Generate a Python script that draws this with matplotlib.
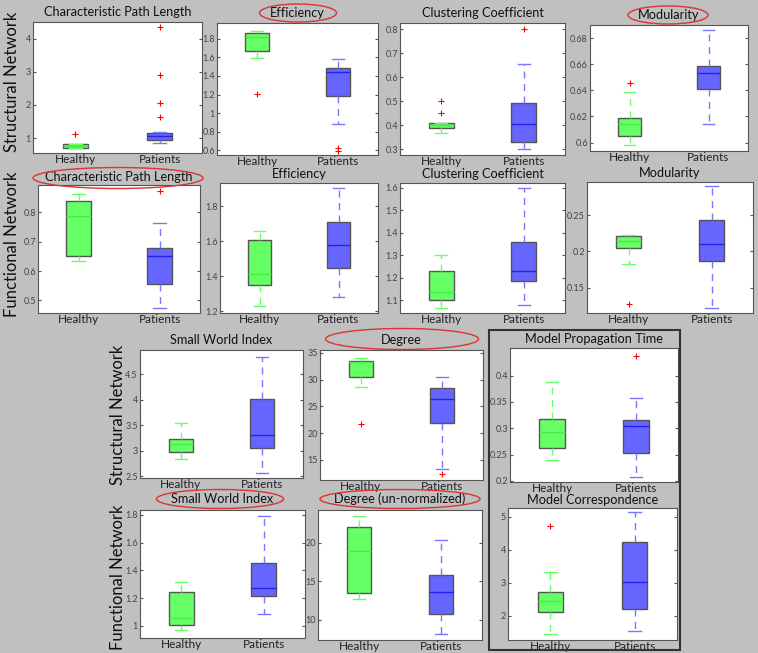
import matplotlib
matplotlib.use("Agg")
import matplotlib.pyplot as plt
from matplotlib.patches import Ellipse, Rectangle

plt.rcParams['font.family'] = ['Lato', 'DejaVu Sans']

W, H = 758, 653
groups = ["Healthy", "Patients"]

# five-number summaries [whislo, q1, med, q3, whishi] for Healthy / Patients, plus outliers
cpl_s = [[0.70, 0.71, 0.77, 0.81, 0.83], [0.86, 0.94, 1.06, 1.16, 1.19]]
cpl_s_out = [[1.11], [4.35, 2.9, 2.05, 1.63]]
eff_s = [[1.59, 1.665, 1.82, 1.865, 1.88], [0.88, 1.19, 1.44, 1.49, 1.58]]
eff_s_out = [[1.21], [0.63, 0.59]]
clu_s = [[0.366, 0.389, 0.40, 0.407, 0.41], [0.30, 0.331, 0.403, 0.491, 0.654]]
clu_s_out = [[0.50, 0.449], [0.80]]
mod_s = [[0.598, 0.605, 0.614, 0.619, 0.639], [0.614, 0.641, 0.653, 0.659, 0.686]]
mod_s_out = [[0.6457], []]

cpl_f = [[0.633, 0.652, 0.787, 0.838, 0.861], [0.474, 0.556, 0.652, 0.678, 0.764]]
cpl_f_out = [[], [0.872]]
eff_f = [[1.229, 1.349, 1.414, 1.606, 1.661], [1.282, 1.446, 1.581, 1.709, 1.903]]
eff_f_out = [[], []]
clu_f = [[1.067, 1.10, 1.137, 1.23, 1.301], [1.078, 1.186, 1.231, 1.361, 1.60]]
clu_f_out = [[], []]
mod_f = [[0.183, 0.2055, 0.2147, 0.221, 0.223], [0.122, 0.187, 0.211, 0.244, 0.290]]
mod_f_out = [[0.127], []]

swi_s = [[2.836, 2.985, 3.127, 3.238, 3.541], [2.57, 3.063, 3.30, 4.015, 4.84]]
swi_s_out = [[], []]
deg_s = [[28.6, 30.45, 33.35, 33.5, 34.1], [13.3, 22.0, 26.4, 28.4, 30.6]]
deg_s_out = [[21.8], [12.4]]
mpt = [[0.240, 0.262, 0.293, 0.317, 0.3885], [0.208, 0.253, 0.305, 0.315, 0.358]]
mpt_out = [[], [0.437]]

swi_f = [[0.972, 1.007, 1.059, 1.243, 1.317], [1.085, 1.217, 1.27, 1.456, 1.795]]
swi_f_out = [[], []]
deg_f = [[12.69, 13.46, 18.88, 22.0, 23.5], [8.08, 10.68, 13.54, 15.77, 20.38]]
deg_f_out = [[], []]
mcorr = [[1.43, 2.12, 2.45, 2.73, 3.33], [1.53, 2.195, 3.03, 4.23, 5.14]]
mcorr_out = [[4.73], []]

panels = [
    ("Characteristic Path Length", cpl_s, cpl_s_out, [1, 2, 3, 4]),
    ("Efficiency", eff_s, eff_s_out, [0.6, 0.8, 1, 1.2, 1.4, 1.6, 1.8]),
    ("Clustering Coefficient", clu_s, clu_s_out, [0.3, 0.4, 0.5, 0.6, 0.7, 0.8]),
    ("Modularity", mod_s, mod_s_out, [0.6, 0.62, 0.64, 0.66, 0.68]),
    ("Characteristic Path Length", cpl_f, cpl_f_out, [0.5, 0.6, 0.7, 0.8]),
    ("Efficiency", eff_f, eff_f_out, [1.2, 1.4, 1.6, 1.8]),
    ("Clustering Coefficient", clu_f, clu_f_out, [1.1, 1.2, 1.3, 1.4, 1.5, 1.6]),
    ("Modularity", mod_f, mod_f_out, [0.15, 0.2, 0.25]),
    ("Small World Index", swi_s, swi_s_out, [2.5, 3, 3.5, 4, 4.5]),
    ("Degree", deg_s, deg_s_out, [15, 20, 25, 30, 35]),
    ("Model Propagation Time", mpt, mpt_out, [0.2, 0.25, 0.3, 0.35, 0.4]),
    ("Small World Index", swi_f, swi_f_out, [1, 1.2, 1.4, 1.6, 1.8]),
    ("Degree (un-normalized)", deg_f, deg_f_out, [10, 15, 20]),
    ("Model Correspondence", mcorr, mcorr_out, [2, 3, 4, 5]),
]

# layout in pixels: left, top, right, bottom of each plot area, y range, title offset
rects = [(33, 22, 202, 153), (217, 23, 378, 155), (400, 23, 565, 155), (590, 25, 748, 151),
         (38, 185, 200, 313), (220, 183, 378, 313), (400, 183, 565, 313), (587, 182, 753, 313),
         (140, 350, 303, 478), (320, 350, 483, 480), (510, 348, 678, 482),
         (140, 510, 305, 638), (318, 510, 482, 640), (508, 508, 677, 640)]
ylims = [(0.55, 4.5), (0.55, 1.97), (0.275, 0.826), (0.5936, 0.690),
         (0.457, 0.893), (1.19, 1.934), (1.043, 1.622), (0.115, 0.296),
         (2.467, 4.97), (11.26, 35.56), (0.198, 0.4525),
         (0.913, 1.835), (7.35, 24.23), (1.26, 5.27)]
toffs = [10, 10, 10, 10, 8, 9, 9, 9, 10, 10, 9, 11, 11, 8]

fills = ["#66ff66", "#6666ff"]
meds = ["#44ee44", "#2222ee"]
whisk = ["#66ff66", "#7777ff"]

fig = plt.figure(figsize=(W / 100, H / 100), dpi=100)
fig.patch.set_facecolor("#c0c0c0")

for (title, stats, outs, ticks), (l, t, r, b), yl, to in zip(panels, rects, ylims, toffs):
    ax = fig.add_axes([l / W, 1 - b / H, (r - l) / W, (b - t) / H])
    ax.set_facecolor("white")
    for i in range(2):
        lo, q1, md, q3, hi = stats[i]
        s = [dict(whislo=lo, q1=q1, med=md, q3=q3, whishi=hi, fliers=outs[i])]
        ax.bxp(s, positions=[i + 1], widths=0.3, patch_artist=True,
               boxprops=dict(facecolor=fills[i], edgecolor="#555555", linewidth=1),
               medianprops=dict(color=meds[i], linewidth=1),
               whiskerprops=dict(color=whisk[i], linestyle=(0, (5, 4)), linewidth=1),
               capprops=dict(color=whisk[i], linewidth=1),
               flierprops=dict(marker="+", markeredgecolor="red", markersize=4, markeredgewidth=0.8))
    ax.set_xlim(0.5, 2.5)
    ax.set_ylim(*yl)
    ax.set_yticks(ticks, [f"{v:g}" for v in ticks])
    ax.set_xticks([1, 2], groups)
    ax.tick_params(axis="y", direction="in", length=2, labelsize=6.5, labelcolor="#444444",
                   color="#555555", right=True, pad=1.5)
    ax.tick_params(axis="x", length=0, labelsize=8.5, pad=1, labelcolor="#222222")
    for sp in ax.spines.values():
        sp.set_color("#555555")
        sp.set_linewidth(0.8)
    ax.annotate(title, (0.5, 1), xycoords="axes fraction", xytext=(0, to),
                textcoords="offset pixels", ha="center", va="center", fontsize=9.2, color="#111111")

ov = fig.add_axes([0, 0, 1, 1], zorder=10)
ov.set_xlim(0, W)
ov.set_ylim(H, 0)
ov.axis("off")
ov.patch.set_alpha(0)

for x, y, txt in [(12, 82, "Structural Network"), (12, 244, "Functional Network"),
                  (118, 415, "Structural Network"), (118, 577, "Functional Network")]:
    ov.text(x, y, txt, rotation=90, ha="center", va="center", fontsize=12, color="#111111")

for cx, cy, ew, eh in [(298, 13, 77, 18), (668, 15, 80, 18), (118, 178, 170, 21),
                       (402, 339, 153, 21), (220, 499, 127, 19), (400, 499, 160, 19)]:
    ov.add_patch(Ellipse((cx, cy), ew, eh, fill=False, edgecolor="#dd3333", linewidth=1))

ov.add_patch(Rectangle((489, 330), 191, 320, fill=False, edgecolor="#333333", linewidth=1.5))

fig.savefig("out.png", dpi=100, facecolor=fig.get_facecolor())
